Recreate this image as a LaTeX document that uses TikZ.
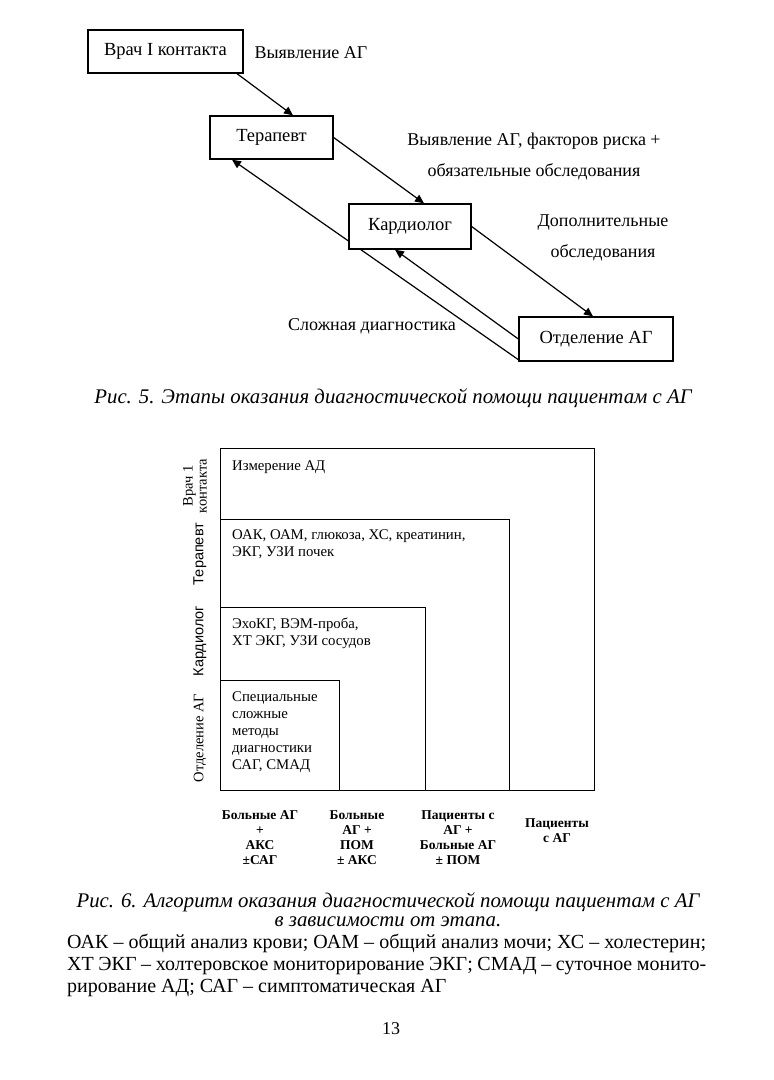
\documentclass[tikz,border=0pt]{standalone}
\usepackage{fontspec}
\setmainfont{Liberation Serif}
\newfontfamily\sansfam{Liberation Sans}
\usetikzlibrary{arrows.meta,calc}
\pgfdeclarelayer{background}
\pgfdeclarelayer{paper}
\pgfsetlayers{paper,background,main}
\begin{document}
\begin{tikzpicture}[x=1pt,y=-1pt,
  box/.style={draw, line width=1.3pt, fill=white, inner sep=0pt,
    font=\fontsize{18.5}{20}\selectfont},
  conn/.style={line width=1.2pt, -{Triangle[length=9pt,width=8pt]}},
  lbl/.style={font=\fontsize{18}{31.5}\selectfont, align=center, inner sep=0pt},
  figcap/.style={font=\fontsize{20.8}{19}\selectfont\itshape, align=center, inner sep=0pt},
  stage/.style={draw, line width=1.2pt, inner sep=0pt, anchor=south west},
  itxt/.style={font=\fontsize{14.8}{17}\selectfont, align=left, inner sep=0pt, anchor=west},
  rot/.style={font=\fontsize{14.5}{14}\selectfont, align=center, inner sep=0pt, rotate=90},
  col/.style={font=\fontsize{13.5}{15}\selectfont\bfseries, align=center, inner sep=0pt},
  body/.style={font=\fontsize{20}{23}\selectfont, inner sep=0pt, anchor=west}]
\begin{pgfonlayer}{paper}
\useasboundingbox[fill=white] (0,0) rectangle (774,1080);
\end{pgfonlayer}

% ---- Fig. 5 ----
\node[box, minimum width=155pt, minimum height=43pt] (vrach) at (165.5,51.5) {Врач I контакта};
\node[box, minimum width=123pt, minimum height=43pt] (terap) at (271.5,137.5) {Терапевт\hspace{20pt}};
\node[box, minimum width=122pt, minimum height=45pt] (kard) at (410,226.5) {Кардиолог\hspace{10pt}};
\node[box, minimum width=154pt, minimum height=44pt] (otd) at (596,339) {Отделение АГ\hspace{14pt}};

\begin{pgfonlayer}{background}
\draw[conn] ([xshift=71.5pt]vrach.south) -- ([xshift=21.5pt]terap.north);
\draw[conn] (terap.east) -- ([xshift=14pt]kard.north);
\draw[conn] (kard.east) -- ([xshift=-3pt]otd.north);
\draw[conn] (otd.west) -- ([xshift=-15pt]kard.south);
\draw[conn] ([yshift=2pt]otd.south west) -- ([xshift=-39.5pt]terap.south);
\end{pgfonlayer}

\node[lbl] (l1) at (311,53) {Выявление АГ};
\node[lbl] (l2) at (534,156.5) {Выявление АГ, факторов риска +\\обязательные обследования};
\node[lbl] (l3) at (603,238) {Дополнительные\\обследования};
\node[lbl] (l4) at (372,326) {Сложная диагностика};

\node[figcap] (c5) at (393,398) {Рис. 5. Этапы оказания диагностической помощи пациентам с АГ};

% ---- Fig. 6 ----
\node[stage, minimum width=374pt, minimum height=342pt] (s1) at (220,791) {};
\node[stage, minimum width=289pt, minimum height=271pt] (s2) at (220,791) {};
\node[stage, minimum width=205pt, minimum height=183pt] (s3) at (220,791) {};
\node[stage, minimum width=119pt, minimum height=110pt] (s4) at (220,791) {};

\node[itxt] (t1) at (232,467) {Измерение АД};
\node[itxt] (t2) at (232,544.5) {ОАК, ОАМ, глюкоза, ХС, креатинин,\\ЭКГ, УЗИ почек};
\node[itxt] (t3) at (232,633.5) {ЭхоКГ, ВЭМ-проба,\\ХТ ЭКГ, УЗИ сосудов};
\node[itxt] (t4) at (232,732) {Специальные\\сложные\\методы\\диагностики\\САГ, СМАД};

\node[rot] (r1) at (195,486) {Врач 1\\контакта};
\node[rot, font=\fontsize{14.5}{14}\selectfont\sansfam] (r2) at (200,554) {Терапевт};
\node[rot, font=\fontsize{14.5}{14}\selectfont\sansfam] (r3) at (200,641) {Кардиолог};
\node[rot] (r4) at (200,738) {Отделение АГ};

\node[col] (b1) at (260,837.5) {Больные АГ\\+\\АКС\\±САГ};
\node[col] (b2) at (357,837.5) {Больные\\АГ +\\ПОМ\\± АКС};
\node[col] (b3) at (458,837.5) {Пациенты с\\АГ +\\Больные АГ\\± ПОМ};
\node[col] (b4) at (557,830.5) {Пациенты\\с АГ};

\node[figcap] (c6) at (388,910) {Рис. 6. Алгоритм оказания диагностической помощи пациентам с АГ\\в зависимости от этапа.};

\node[body] (x1) at (67,943) {\makebox[639pt][s]{ОАК – общий анализ крови; ОАМ – общий анализ мочи; ХС – холестерин;}};
\node[body] (x2) at (67,966) {\makebox[639pt][s]{ХТ ЭКГ – холтеровское мониторирование ЭКГ; СМАД – суточное монито-}};
\node[body] (x3) at (67,988) {рирование АД; САГ – симптоматическая АГ};

\node[font=\fontsize{18}{18}\selectfont, inner sep=0pt] (pg) at (391,1029) {13};
\end{tikzpicture}
\end{document}
